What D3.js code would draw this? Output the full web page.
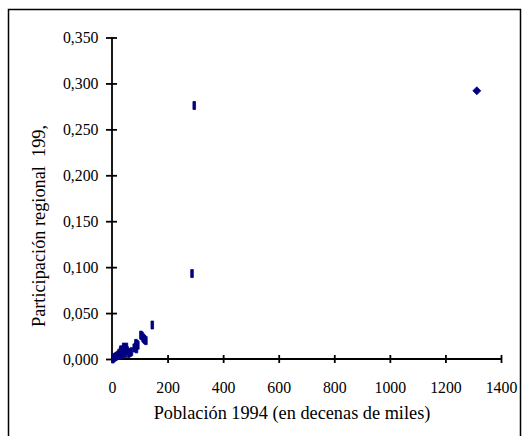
<!DOCTYPE html>
<html>
<head>
<meta charset="utf-8">
<script src="https://cdn.jsdelivr.net/npm/d3@7"></script>
<style>
  body { margin: 0; background: #fff; }
  svg text { font-family: "Liberation Serif", "Times New Roman", serif; fill: #000; }
</style>
</head>
<body>
<div id="chart"></div>
<script>
// Población 1994 (decenas de miles) vs participación regional
const poblacion = [3, 5, 10, 15, 20, 25, 28, 30, 32, 35, 38, 40, 42, 45, 48, 50, 52, 55, 60, 65, 70,
  80, 84, 86, 88, 90, 93, 104, 108, 112, 115, 118, 122, 145, 288, 296, 1313];
const participacion = [0.000, 0.001, 0.002, 0.003, 0.004, 0.006, 0.004, 0.008, 0.010, 0.007, 0.005, 0.010, 0.013, 0.012, 0.006, 0.011, 0.013, 0.009, 0.006, 0.007, 0.008,
  0.012, 0.013, 0.017, 0.011, 0.016, 0.015, 0.026, 0.025, 0.023, 0.022, 0.021, 0.020, 0.037, 0.093, 0.276, 0.292];
const xTicks = [0, 200, 400, 600, 800, 1000, 1200, 1400];
const yTicks = [0, 0.05, 0.1, 0.15, 0.2, 0.25, 0.3, 0.35];

const W = 524, H = 436;
const svg = d3.select('#chart').append('svg')
  .attr('width', W)
  .attr('height', H);

svg.append('rect')
  .attr('x', 8.5).attr('y', 9.5)
  .attr('width', 512).attr('height', 450)
  .attr('fill', 'none')
  .attr('stroke', '#000')
  .attr('stroke-width', 1.5);

const x = d3.scaleLinear().domain([0, 1400]).range([112, 501]);
const y = d3.scaleLinear().domain([0, 0.35]).range([359, 37.5]);
const fmt = d => d3.format('.3f')(d).replace('.', ',');

// y axis
const yAxis = svg.append('g').attr('transform', `translate(${x(0)},0)`)
  .call(d3.axisLeft(y).tickValues(yTicks).tickSize(6).tickFormat(fmt).tickPadding(7.5));
yAxis.selectAll('.tick line').attr('x2', -6).attr('x1', 5);
// x axis
const xAxis = svg.append('g').attr('transform', `translate(0,${y(0)})`)
  .call(d3.axisBottom(x).tickValues(xTicks).tickSize(4).tickFormat(d3.format('d')).tickPadding(19));
xAxis.selectAll('.tick line').attr('y1', -4).attr('y2', 4);

[xAxis, yAxis].forEach(a => {
  a.attr('font-family', null).attr('font-size', null);
  a.select('.domain').attr('stroke', '#000').attr('stroke-width', 1.8);
  a.selectAll('.tick line').attr('stroke', '#000').attr('stroke-width', 1.8);
  a.selectAll('.tick text')
    .style('font-family', '"Liberation Serif", "Times New Roman", serif')
    .style('font-size', '15.8px');
});
yAxis.select('.domain').attr('d', `M0,${y(0.35)}V${y(0)}`);
xAxis.select('.domain').attr('d', `M${x(0)},0H${x(1400)}`);

// points: thin bars, the largest region drawn as a diamond
const pts = d3.range(poblacion.length).map(i => [poblacion[i], participacion[i]]);
svg.append('g').selectAll('path')
  .data(pts)
  .join('path')
  .attr('d', d => d[0] > 1000
    ? 'M0,-4L4,0L0,4L-4,0Z'
    : 'M-1.3,-4H1.3V4H-1.3Z')
  .attr('transform', d => `translate(${x(d[0])},${y(d[1])})`)
  .attr('fill', '#000080')
  .attr('stroke', '#000080')
  .attr('stroke-width', 0.8)
  .attr('stroke-linejoin', 'round');

// titles
svg.append('text')
  .attr('x', 292).attr('y', 419)
  .attr('text-anchor', 'middle')
  .attr('font-size', 18.3)
  .text('Población 1994 (en decenas de miles)');

svg.append('text')
  .attr('transform', 'translate(45,226) rotate(-90)')
  .attr('text-anchor', 'middle')
  .attr('font-size', 18.3)
  .style('white-space', 'pre')
  .text('Participación regional  199,');
</script>
</body>
</html>
